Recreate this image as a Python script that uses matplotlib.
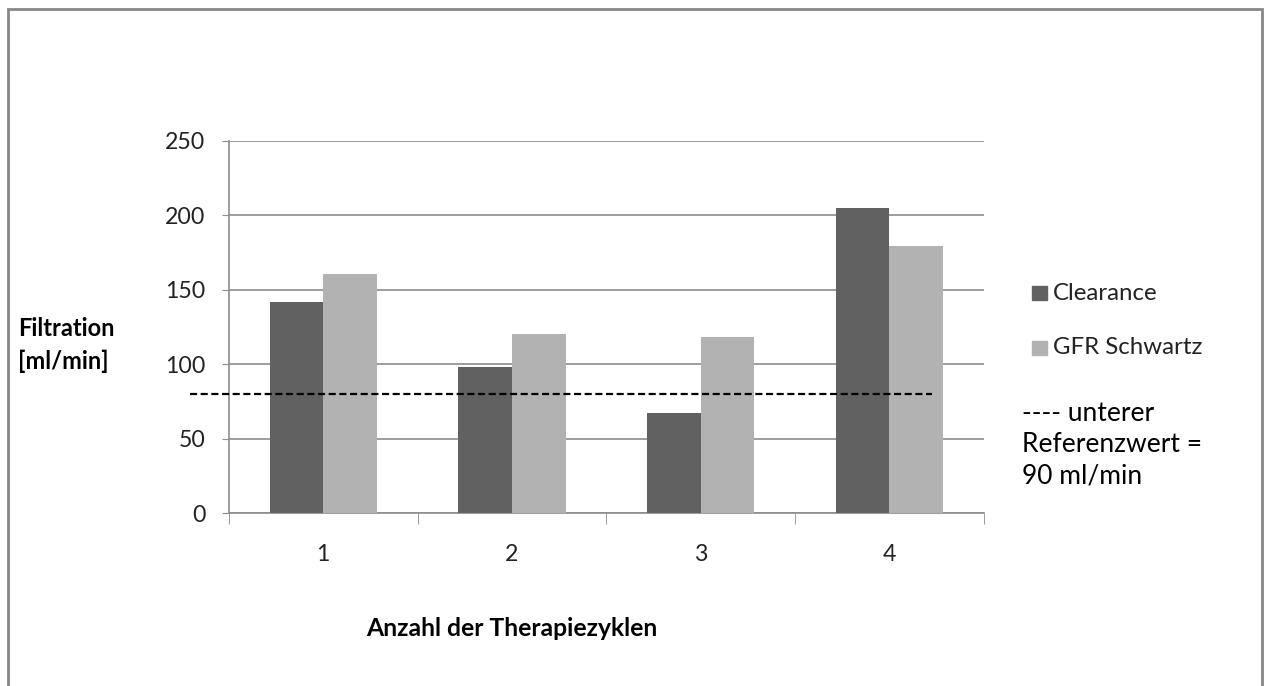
import numpy as np
import matplotlib.pyplot as plt
from matplotlib.patches import Rectangle

# ── Daten ─────────────────────────────────────────────
zyklen     = ['1', '2', '3', '4']
clearance  = [142, 98, 67.5, 205]
gfr        = [160.5, 120, 118.5, 179.5]
referenz   = 80
yticks     = [0, 50, 100, 150, 200, 250]

COL_CLEAR = '#616161'
COL_GFR   = '#b2b2b2'
GRID      = '#8c8c8c'
FONT      = 'Lato'
FS        = 16.7

fig = plt.figure(figsize=(12.65, 6.86), dpi=100)
ax = fig.add_axes([0.1810, 0.2517, 0.5966, 0.5432])

x = np.arange(1, len(zyklen) + 1)
w = 0.284
ax.bar(x - w/2, clearance, width=w, color=COL_CLEAR, zorder=3)
ax.bar(x + w/2, gfr, width=w, color=COL_GFR, zorder=3)

# Referenzlinie (ragt links über die Achse hinaus)
ax.plot([0.293, 4.227], [referenz, referenz], color='black', lw=1.6,
        linestyle=(0, (3.2, 1.6)), clip_on=False, zorder=4)

ax.set_xlim(0.5, 4.5)
ax.set_ylim(0, 250)
ax.set_yticks(yticks)
ax.set_yticklabels([str(v) for v in yticks], fontsize=FS, family=FONT,
                   color='#222222')
ax.set_xticks(x)
ax.set_xticklabels(zyklen, fontsize=FS, family=FONT, color='#222222')
ax.set_xticks(np.arange(0.5, 4.6, 1), minor=True)
ax.tick_params(axis='x', which='major', length=0, pad=22)
ax.tick_params(axis='x', which='minor', length=8, color=GRID, direction='out')
ax.tick_params(axis='y', length=5, color=GRID, pad=12)
ax.yaxis.grid(True, color=GRID, lw=1.2, zorder=0)
for s in ['top', 'right']:
    ax.spines[s].set_visible(False)
ax.spines['left'].set_color(GRID)
ax.spines['bottom'].set_color(GRID)
ax.spines['left'].set_linewidth(1.2)
ax.spines['bottom'].set_linewidth(1.2)

# Achsentitel
fig.text(18/1265, 1 - 345/686, 'Filtration\n[ml/min]', fontsize=17,
         fontweight='bold', family=FONT, ha='left', va='center', linespacing=1.5)
fig.text(512/1265, 1 - 628/686, 'Anzahl der Therapiezyklen', fontsize=17.8,
         fontweight='bold', family=FONT, ha='center', va='center')

# Legende
for yy, col, lab in [(293, COL_CLEAR, 'Clearance'), (348, COL_GFR, 'GFR Schwartz')]:
    fig.patches.append(Rectangle((1032/1265, 1 - (yy + 7)/686), 15/1265, 14/686,
                                 color=col, transform=fig.transFigure))
    fig.text(1053/1265, 1 - yy/686, lab, fontsize=17.3, family=FONT,
             ha='left', va='center', color='#222222')
fig.text(1022/1265, 1 - 445/686, '---- unterer\nReferenzwert =\n90 ml/min',
         fontsize=19, family=FONT, ha='left', va='center', linespacing=1.32)

# Rahmen
fig.patches.append(Rectangle((8/1265, -0.05), 1254/1265, 1 - 9/686 + 0.05,
                             fill=False, edgecolor='#888888', lw=2,
                             transform=fig.transFigure))

fig.savefig('out.png', dpi=100)
